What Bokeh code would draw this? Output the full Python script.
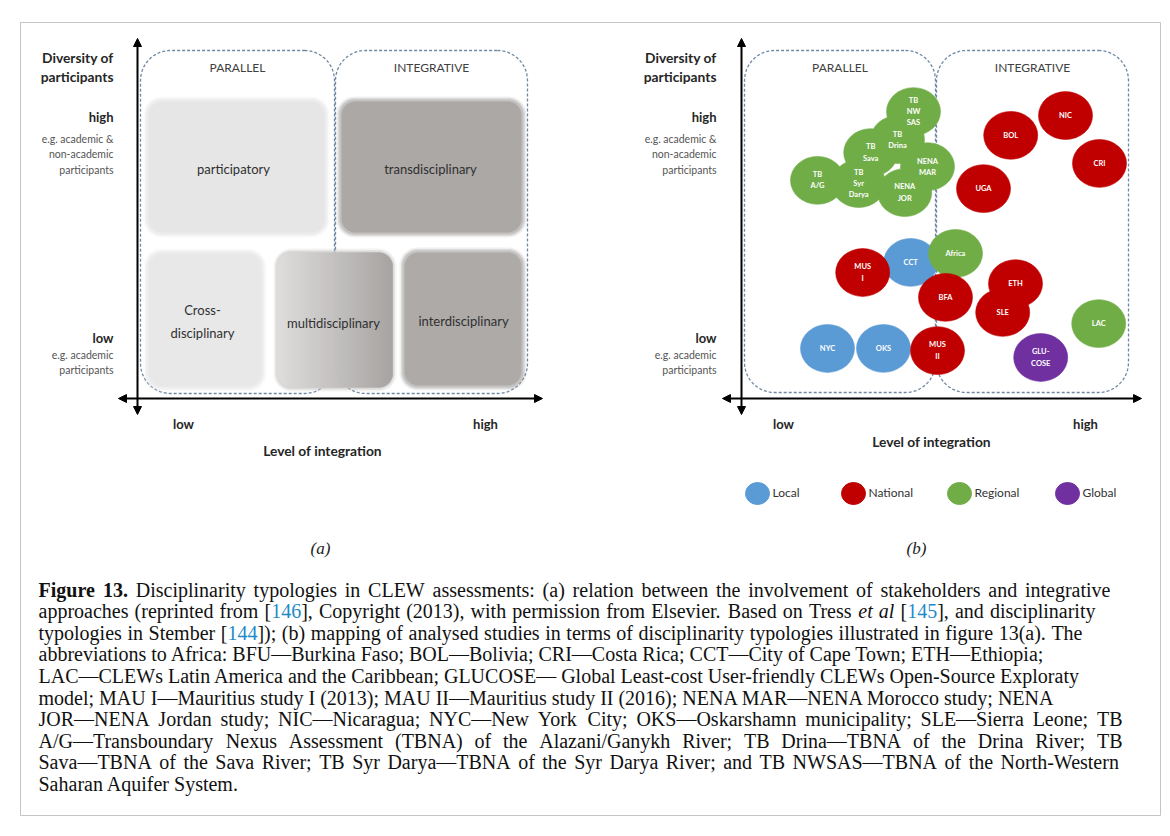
import numpy as np
from bokeh.plotting import figure
from bokeh.models import Range1d, Arrow, NormalHead, ColumnDataSource
from bokeh.core.properties import value
from bokeh.embed import file_html
from bokeh.resources import INLINE

# ---------------- data ----------------
study_labels = ["TB\nNW\nSAS", "TB\nDrina", "TB\nSava", "NENA\nMAR", "TB\nA/G", "TB\nSyr\nDarya",
                "NENA\nJOR", "NIC", "BOL", "CRI", "UGA", "CCT", "Africa", "BFA", "MUS\nI",
                "ETH", "SLE", "LAC", "NYC", "OKS", "MUS\nII", "GLU-\nCOSE"]
study_integration = [4.30, 3.90, 3.23, 4.65, 1.90, 2.93, 4.08, 8.10, 6.73, 8.95, 6.05,
                     4.23, 5.35, 5.10, 3.03, 6.85, 6.53, 8.93, 2.15, 3.55, 4.90, 7.48]
study_diversity = [7.97, 7.19, 6.83, 6.44, 6.06, 5.97, 5.72, 7.86, 7.31, 6.53, 5.83,
                   3.78, 4.03, 2.81, 3.50, 3.19, 2.39, 2.08, 1.39, 1.39, 1.33, 1.14]
study_scope = ["Regional", "Regional", "Regional", "Regional", "Regional", "Regional",
               "Regional", "National", "National", "National", "National", "Local",
               "Regional", "National", "National", "National", "National", "Regional",
               "Local", "Local", "National", "Global"]
scope_names = ["Local", "National", "Regional", "Global"]
scope_colors = ["#5b9bd5", "#c00000", "#70ad47", "#7030a0"]

typology_labels = ["participatory", "transdisciplinary", "Cross-\ndisciplinary",
                   "multidisciplinary", "interdisciplinary"]
typology_colors = ["#e6e6e6", "#aba8a6", "#e8e8e8", None, "#adaaa8"]
panel_titles = ["PARALLEL", "INTEGRATIVE"]
y_title = ["Diversity of", "participants"]
y_high = "high"
y_high_note = ["e.g. academic &", "non-academic", "participants"]
y_low = "low"
y_low_note = ["e.g. academic", "participants"]
x_title = "Level of integration"
x_ticks = ["low", "high"]
panel_tags = ["(a)", "(b)"]

caption_lines = [
    [("Figure 13.", "bold"), (" Disciplinarity typologies in CLEW assessments: (a) relation between the involvement of stakeholders and integrative", "normal")],
    [("approaches (reprinted from [", "normal"), ("146", "link"),
     ("], Copyright (2013), with permission from Elsevier. Based on Tress ", "normal"),
     ("et al", "italic"), (" [", "normal"), ("145", "link"), ("], and disciplinarity", "normal")],
    [("typologies in Stember [", "normal"), ("144", "link"),
     ("]); (b) mapping of analysed studies in terms of disciplinarity typologies illustrated in figure 13(a). The", "normal")],
    [("abbreviations to Africa: BFU\u2014Burkina Faso; BOL\u2014Bolivia; CRI\u2014Costa Rica; CCT\u2014City of Cape Town; ETH\u2014Ethiopia;", "normal")],
    [("LAC\u2014CLEWs Latin America and the Caribbean; GLUCOSE\u2014 Global Least-cost User-friendly CLEWs Open-Source Exploraty", "normal")],
    [("model; MAU I\u2014Mauritius study I (2013); MAU II\u2014Mauritius study II (2016); NENA MAR\u2014NENA Morocco study; NENA", "normal")],
    [("JOR\u2014NENA Jordan study; NIC\u2014Nicaragua; NYC\u2014New York City; OKS\u2014Oskarshamn municipality; SLE\u2014Sierra Leone; TB", "normal")],
    [("A/G\u2014Transboundary Nexus Assessment (TBNA) of the Alazani/Ganykh River; TB Drina\u2014TBNA of the Drina River; TB", "normal")],
    [("Sava\u2014TBNA of the Sava River; TB Syr Darya\u2014TBNA of the Syr Darya River; and TB NWSAS\u2014TBNA of the North-Western", "normal")],
    [("Saharan Aquifer System.", "normal")],
]
caption_line_end = [1110, 1095, 1082, None, None, None, 1122, 1122, 1120, None]

# ---------------- figure ----------------
W, H = 1162, 828
p = figure(width=W, height=H, x_range=Range1d(0, W), y_range=Range1d(H, 0),
           output_backend="svg", toolbar_location=None, min_border=0,
           x_axis_location=None, y_axis_location=None)
p.grid.visible = False
p.outline_line_color = None
p.background_fill_color = "white"
p.border_fill_color = "white"

# data scale of panel (b): integration 0..10 -> px 741..1141 ; diversity 0..10 -> px 398..38
AX0, AXPX = 741.0, 40.0
AY0, AYPX = 398.0, 36.0
p.extra_x_ranges = {"integ": Range1d((0 - AX0) / AXPX, (W - AX0) / AXPX)}
p.extra_y_ranges = {"div": Range1d((AY0 - H) / AYPX, (AY0 - 0) / AYPX)}

SANS = value("Lato")
SERIF = value("Liberation Serif")


def T(x, y, s, size, style="normal", color="#262626", align="center", font=SANS,
      baseline="middle", lh=1.2):
    p.text(x=[x], y=[y], text=[s], text_font=font, text_font_size=f"{size}px",
           text_font_style=style, text_color=color, text_align=align,
           text_baseline=baseline, text_line_height=lh)


def rrect(l, r, t, b, rad, n=14):
    xs, ys = [], []
    corners = [((r - rad, t + rad), -90, 0), ((r - rad, b - rad), 0, 90),
               ((l + rad, b - rad), 90, 180), ((l + rad, t + rad), 180, 270)]
    for (cx, cy), a0, a1 in corners:
        a = np.radians(np.linspace(a0, a1, n))
        xs.extend(cx + rad * np.cos(a))
        ys.extend(cy + rad * np.sin(a))
    return xs, ys


def dashed_box(l, r, t, b, rad=30):
    xs, ys = rrect(l, r, t, b, rad)
    p.line(xs + [xs[0]], ys + [ys[0]], line_color="#6f88a3", line_width=1.3, line_dash="3 2")


def soft_box(l, r, t, b, color, rad=14):
    for e, a in [(4, 0.18), (2.5, 0.3), (1, 0.5)]:
        xs, ys = rrect(l - e, r + e, t - e, b + e, rad + e)
        p.patch(xs, ys, fill_color=color, fill_alpha=a, line_color=None)
    xs, ys = rrect(l + 1, r - 1, t + 1, b - 1, rad)
    p.patch(xs, ys, fill_color=color, line_color=None)


def grad_box(l, r, t, b, c0, c1, rad=14):
    mid = "#%02x%02x%02x" % tuple(int((c0[i] + c1[i]) / 2) for i in range(3))
    for e, a in [(4, 0.18), (2.5, 0.3), (1, 0.5)]:
        xs, ys = rrect(l - e, r + e, t - e, b + e, rad + e)
        p.patch(xs, ys, fill_color=mid, fill_alpha=a, line_color=None)
    n = int(r - l)
    lefts, rights, tops, bots, cols = [], [], [], [], []
    for i in range(n):
        x0 = l + i
        xc = x0 + 0.5
        dy = 0.0
        if xc < l + rad:
            dx = l + rad - xc
            dy = rad - np.sqrt(max(rad ** 2 - dx ** 2, 0))
        elif xc > r - rad:
            dx = xc - (r - rad)
            dy = rad - np.sqrt(max(rad ** 2 - dx ** 2, 0))
        f = i / max(n - 1, 1)
        c = tuple(int(c0[k] + (c1[k] - c0[k]) * f) for k in range(3))
        lefts.append(x0 - 0.3)
        rights.append(x0 + 1.3)
        tops.append(t + dy)
        bots.append(b - dy)
        cols.append("#%02x%02x%02x" % c)
    p.quad(left=lefts, right=rights, top=tops, bottom=bots, fill_color=cols, line_color=None)


# outer frame
fx, fy = [20, 1160, 1160, 20, 20], [22, 22, 815, 815, 22]
p.line(fx, fy, line_color="#c4c4c4", line_width=1)

# ---------- panel (a) ----------
dashed_box(140, 334, 50, 393)
dashed_box(335, 527, 50, 393)

soft_box(147, 325, 100, 233, typology_colors[0])
soft_box(340, 522, 100, 233, typology_colors[1])
soft_box(147, 262, 252, 387, typology_colors[2])
grad_box(277, 392, 252, 387, (224, 222, 222), (166, 163, 161))
soft_box(403, 522, 251, 386, typology_colors[4])

T(233, 168, typology_labels[0], 13, color="#303030")
T(430, 168, typology_labels[1], 13, color="#303030")
T(202, 321, typology_labels[2], 13, color="#303030", lh=1.45)
T(333, 322, typology_labels[3], 13, color="#303030")
T(463, 320, typology_labels[4], 13, color="#303030")

# ---------- axis labelling for both panels ----------
for right_edge, tl in [(113, (140, 334, 335, 527)), (716, (744, 935, 936, 1128))]:
    T((tl[0] + tl[1]) / 2, 67, panel_titles[0], 12, color="#404040")
    T((tl[2] + tl[3]) / 2, 67, panel_titles[1], 12, color="#404040")
    T(right_edge, 57, y_title[0], 13.8, "bold", align="right")
    T(right_edge, 76, y_title[1], 13.8, "bold", align="right")
    T(right_edge, 116, y_high, 13, "bold", align="right")
    for j, s in enumerate(y_high_note):
        T(right_edge, 138 + j * 15.5, s, 10.5, color="#555555", align="right")
    T(right_edge, 337, y_low, 13, "bold", align="right")
    for j, s in enumerate(y_low_note):
        T(right_edge, 354 + j * 15.5, s, 10.5, color="#555555", align="right")

T(183, 423, x_ticks[0], 13, "bold")
T(485, 423, x_ticks[1], 13, "bold")
T(322, 450, x_title, 13.8, "bold")
T(783, 423, x_ticks[0], 13, "bold")
T(1085, 423, x_ticks[1], 13, "bold")
T(931, 441, x_title, 13.8, "bold")

# ---------- panel (b) ----------
dashed_box(744, 935, 50, 392)
dashed_box(936, 1128, 50, 392)

color_of = dict(zip(scope_names, scope_colors))
src = ColumnDataSource(dict(x=study_integration, y=study_diversity, label=study_labels,
                            color=[color_of[s] for s in study_scope]))
p.ellipse(x="x", y="y", width=1.35, height=1.33, source=src, fill_color="color",
          line_color="color", line_alpha=0.6, line_width=1,
          x_range_name="integ", y_range_name="div")
p.text(x="x", y="y", text="label", source=src, text_font=SANS, text_font_size="7.5px",
       text_font_style="bold", text_color="white", text_align="center",
       text_baseline="middle", text_line_height=1.25,
       x_range_name="integ", y_range_name="div")

# legend
leg_x = [757, 853, 959, 1067]
for lx, name, col in zip(leg_x, scope_names, scope_colors):
    p.ellipse(x=[lx], y=[493], width=24, height=22, fill_color=col, line_color=col)
    T(lx + 15, 492, name, 12, color="#333333", align="left")

# axes arrows
for (xs, ys, xe, ye) in [(137, 414, 137, 38), (118, 398, 542, 398),
                         (741, 414, 741, 38), (722, 398, 1141, 398)]:
    p.add_layout(Arrow(start=NormalHead(size=8, fill_color="black", line_color="black"),
                       end=NormalHead(size=8, fill_color="black", line_color="black"),
                       x_start=xs, y_start=ys, x_end=xe, y_end=ye,
                       line_color="black", line_width=2))

T(320, 548, panel_tags[0], 17, "italic", color="#222222", font=SERIF)
T(916, 548, panel_tags[1], 17, "italic", color="#222222", font=SERIF)

# ---------- caption (Times metrics, justified lines) ----------
_reg = {' ': 250, '!': 333, '"': 408, '#': 500, '$': 500, '%': 833, '&': 778, "'": 180,
        '(': 333, ')': 333, '*': 500, '+': 564, ',': 250, '-': 333, '.': 250, '/': 278,
        ':': 278, ';': 278, '?': 444, '[': 333, ']': 333, '\u2014': 1000,
        'A': 722, 'B': 667, 'C': 667, 'D': 722, 'E': 611, 'F': 556, 'G': 722, 'H': 722,
        'I': 333, 'J': 389, 'K': 722, 'L': 611, 'M': 889, 'N': 722, 'O': 722, 'P': 556,
        'Q': 722, 'R': 667, 'S': 556, 'T': 611, 'U': 722, 'V': 722, 'W': 944, 'X': 722,
        'Y': 722, 'Z': 611, 'a': 444, 'b': 500, 'c': 444, 'd': 500, 'e': 444, 'f': 333,
        'g': 500, 'h': 500, 'i': 278, 'j': 278, 'k': 500, 'l': 278, 'm': 778, 'n': 500,
        'o': 500, 'p': 500, 'q': 500, 'r': 333, 's': 389, 't': 278, 'u': 500, 'v': 500,
        'w': 722, 'x': 500, 'y': 500, 'z': 444}
_bold = {'F': 611, 'i': 278, 'g': 500, 'u': 556, 'r': 444, 'e': 444, '1': 500, '3': 500, '.': 250}
_ital = {'e': 444, 't': 278, 'a': 500, 'l': 278}
CAP_SIZE = 20.0


def tw(s, style):
    tab = _bold if style == "bold" else (_ital if style == "italic" else {})
    return sum(tab.get(ch, _reg.get(ch, 500)) for ch in s) * CAP_SIZE / 1000.0


cap = {"normal": dict(x=[], y=[], text=[]), "bold": dict(x=[], y=[], text=[]),
       "italic": dict(x=[], y=[], text=[]), "link": dict(x=[], y=[], text=[])}
cap_x0, cap_y0, cap_dy = 38.0, 589.0, 21.6
for i, segs in enumerate(caption_lines):
    y = cap_y0 + i * cap_dy
    end = caption_line_end[i]
    if end is None:
        # natural line: one text per styled segment
        x = cap_x0
        for s, st in segs:
            cap[st]["x"].append(x)
            cap[st]["y"].append(y)
            cap[st]["text"].append(s)
            x += tw(s, st)
        continue
    words, cur = [], []
    for s, st in segs:
        parts = s.split(" ")
        for k, part in enumerate(parts):
            if k > 0:
                if cur:
                    words.append(cur)
                cur = []
            if part:
                cur.append((part, st))
    if cur:
        words.append(cur)
    wsum = sum(tw(t, st) for w in words for t, st in w)
    gaps = len(words) - 1
    gap = max(tw(" ", "normal"), (end - cap_x0 - wsum) / max(gaps, 1))
    x = cap_x0
    for w in words:
        for t, st in w:
            cap[st]["x"].append(x)
            cap[st]["y"].append(y)
            cap[st]["text"].append(t)
            x += tw(t, st)
        x += gap

for st, d in cap.items():
    col = "#1f8ac9" if st == "link" else "#111111"
    fs = "normal" if st == "link" else st
    p.text(x="x", y="y", text="text", source=ColumnDataSource(d), text_font=SERIF,
           text_font_size=f"{CAP_SIZE}px", text_font_style=fs, text_color=col,
           text_align="left", text_baseline="middle")

open("out.html", "w").write(file_html(p, INLINE))
